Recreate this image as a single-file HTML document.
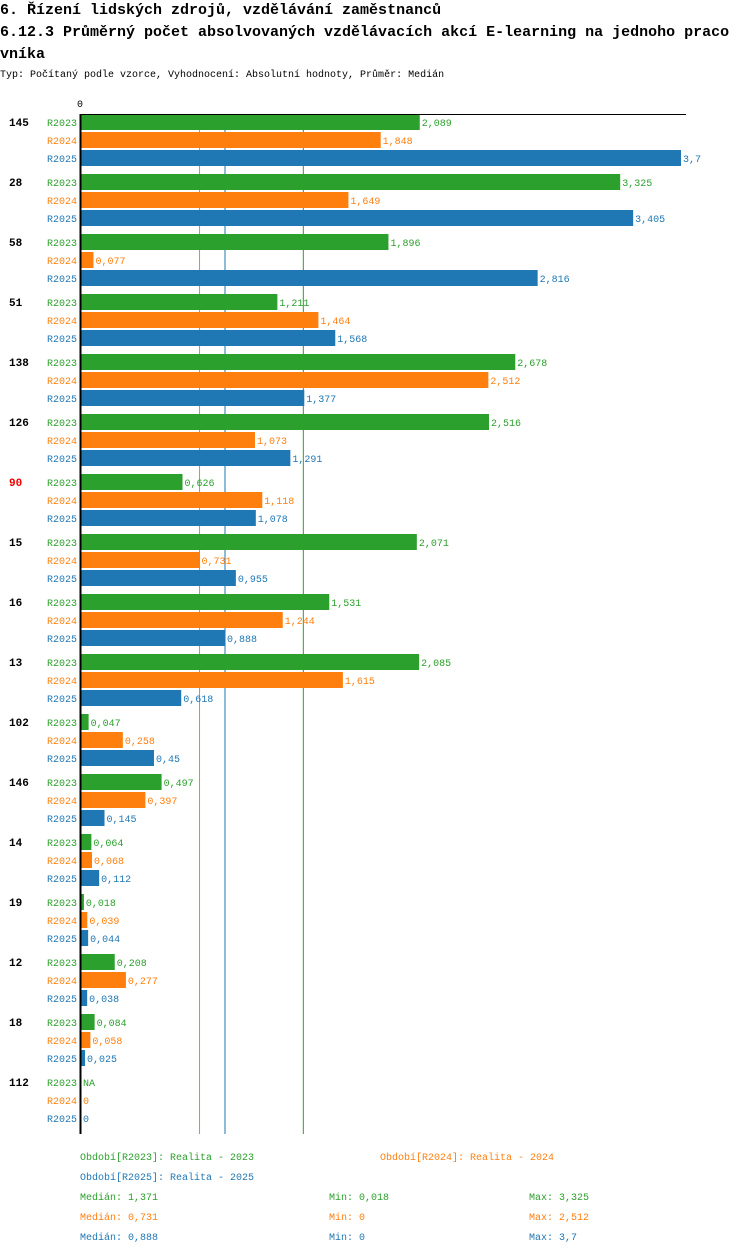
<!DOCTYPE html>
<html><head><meta charset="utf-8"><style>
body{margin:0;background:#fff;width:750px;height:1254px;overflow:hidden}
svg{display:block;font-family:"Liberation Mono",monospace}
</style></head><body>
<svg id="c" width="750" height="1254">
<text x="0" y="14" font-size="15" font-weight="bold">6. Řízení lidských zdrojů, vzdělávání zaměstnanců</text>
<text x="0" y="36" font-size="15" font-weight="bold">6.12.3 Průměrný počet absolvovaných vzdělávacích akcí E-learning na jednoho praco</text>
<text x="0" y="58" font-size="15" font-weight="bold">vníka</text>
<text x="0" y="77" font-size="10">Typ: Počítaný podle vzorce, Vyhodnocení: Absolutní hodnoty, Průměr: Medián</text>
<text x="77" y="107" font-size="10">0</text>
<g id="g"></g>
</svg>
<script>
const categories=["145","28","58","51","138","126","90","15","16","13","102","146","14","19","12","18","112"];
const r2023=[2.089,3.325,1.896,1.211,2.678,2.516,0.626,2.071,1.531,2.085,0.047,0.497,0.064,0.018,0.208,0.084,null];
const r2024=[1.848,1.649,0.077,1.464,2.512,1.073,1.118,0.731,1.244,1.615,0.258,0.397,0.068,0.039,0.277,0.058,0];
const r2025=[3.7,3.405,2.816,1.568,1.377,1.291,1.078,0.955,0.888,0.618,0.45,0.145,0.112,0.044,0.038,0.025,0];
const medians=[1.371,0.731,0.888];
const mins=["0,018","0","0"];
const maxs=["3,325","2,512","3,7"];
const seriesNames=["R2023","R2024","R2025"];
const colors=["#2ca02c","#ff7f0e","#1f77b4"];
const maxV=3.7, x0=81, W=600, topY=114, gh=60;
const xs=v=>x0+v/maxV*W;
const g=document.getElementById('g');
const NS="http://www.w3.org/2000/svg";
function mk(t,a,txt){const e=document.createElementNS(NS,t);for(const k in a)e.setAttribute(k,a[k]);if(txt!==undefined)e.textContent=txt;g.appendChild(e);return e;}
const fmt=v=>String(v).replace('.',',');
const series=[r2023,r2024,r2025];
const bottomY=topY+categories.length*gh;
medians.forEach((m,j)=>{
  let l=mk('line',{x1:xs(m),x2:xs(m),y1:topY,y2:bottomY,stroke:colors[j],'stroke-width':1});
  
  
});
categories.forEach((c,i)=>{
  const gy=topY+i*gh;
  let t=mk('text',{x:9,y:gy+12,'font-size':11,'font-weight':'bold',fill:c==="90"?"#e00":"#000"},c);
  
  
  series.forEach((s,j)=>{
    const cy=gy+8+j*18;
    const v=s[i];
    let l=mk('text',{x:47,y:cy+4,'font-size':10,fill:colors[j]},seriesNames[j]);
    
    
    if(v!==null&&v>0){
      let r=mk('rect',{x:x0,y:cy-8,width:xs(v)-x0,height:16,fill:colors[j]});
      
      
    }
    let vt=mk('text',{x:(v?xs(v):x0)+2,y:cy+4,'font-size':10,fill:colors[j]},v===null?"NA":fmt(v));
    
    
  });
});
let ax=mk('line',{x1:80.5,x2:80.5,y1:topY,y2:bottomY,stroke:'#000','stroke-width':2});


let ht=mk('line',{x1:80,x2:686,y1:topY+0.5,y2:topY+0.5,stroke:'#000','stroke-width':1});


const leg=[[80,1160,"Období[R2023]: Realita - 2023",0],[380,1160,"Období[R2024]: Realita - 2024",1],[80,1180,"Období[R2025]: Realita - 2025",2]];
leg.forEach(a=>{let t=mk('text',{x:a[0],y:a[1],'font-size':10,fill:colors[a[3]]},a[2]);

});
medians.forEach((m,j)=>{
  const y=1200+j*20;
  let a=mk('text',{x:80,y:y,'font-size':10,fill:colors[j]},"Medián: "+fmt(m));
  
  
  let b=mk('text',{x:329,y:y,'font-size':10,fill:colors[j]},"Min: "+mins[j]);
  
  
  let d=mk('text',{x:529,y:y,'font-size':10,fill:colors[j]},"Max: "+maxs[j]);
  
  
});
</script>
</body></html>
